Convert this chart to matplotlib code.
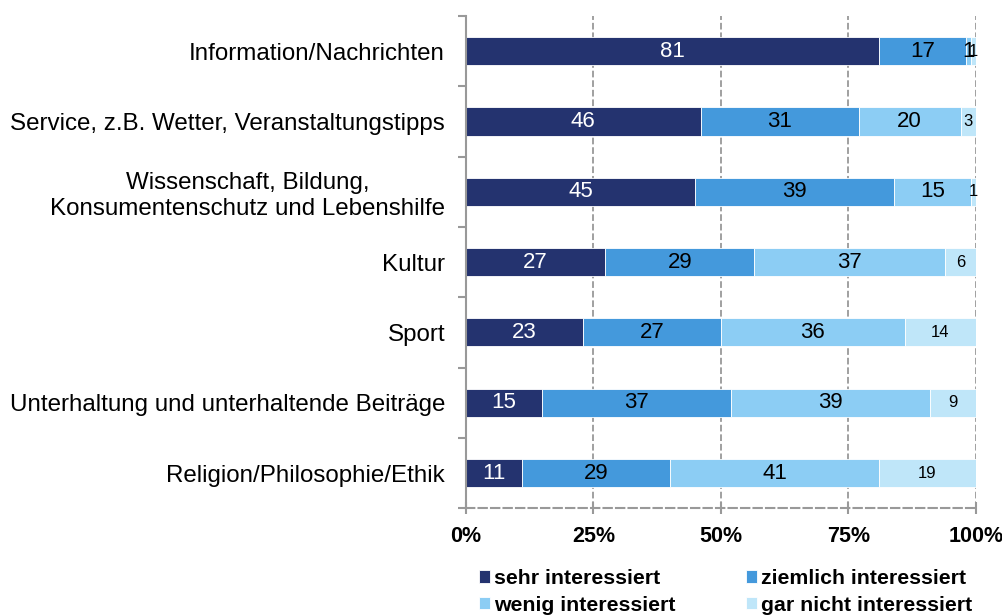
import matplotlib.pyplot as plt
import numpy as np

plt.rcParams['font.family'] = ['Liberation Sans', 'DejaVu Sans']

# categories, top to bottom
categories = ['Information/Nachrichten',
              'Service, z.B. Wetter, Veranstaltungstipps',
              'Wissenschaft, Bildung,\nKonsumentenschutz und Lebenshilfe',
              'Kultur',
              'Sport',
              'Unterhaltung und unterhaltende Beiträge',
              'Religion/Philosophie/Ethik']

sehr = [81, 46, 45, 27, 23, 15, 11]
ziemlich = [17, 31, 39, 29, 27, 37, 29]
wenig = [1, 20, 15, 37, 36, 39, 41]
gar_nicht = [1, 3, 1, 6, 14, 9, 19]

series_names = ['sehr interessiert', 'ziemlich interessiert',
                'wenig interessiert', 'gar nicht interessiert']
colors = ['#24336f', '#4499dc', '#8ccdf4', '#bfe6f9']
text_colors = ['white', 'black', 'black', 'black']
label_sizes = [16, 16, 16, 12]

data = np.array([sehr, ziemlich, wenig, gar_nicht], dtype=float)
# 100% stacked, like the original chart
shares = data / data.sum(axis=0) * 100

fig = plt.figure(figsize=(10.02, 6.16), dpi=100)
ax = fig.add_axes([0.465, 0.175, 0.509, 0.799])

y = np.arange(len(categories))
left = np.zeros(len(categories))
handles = []
for i in range(4):
    bars = ax.barh(y, shares[i], left=left, height=0.4, color=colors[i],
                   edgecolor='white', linewidth=0.6, label=series_names[i])
    handles.append(bars)
    for j in range(len(categories)):
        v = data[i][j]
        ax.text(left[j] + shares[i][j] / 2, y[j], '%d' % v, ha='center', va='center',
                color=text_colors[i], fontsize=label_sizes[i])
    left += shares[i]

ax.set_ylim(len(categories) - 0.5, -0.5)
ax.set_xlim(0, 100)
ax.set_yticks(y)
ax.set_yticklabels(categories, fontsize=17.4, multialignment='center')
ax.tick_params(axis='y', length=0, pad=15)
ax.set_yticks(np.arange(-0.5, len(categories), 1), minor=True)
ax.tick_params(axis='y', which='minor', length=6, color='#999999', width=1.5)

ax.set_xticks([0, 25, 50, 75, 100])
ax.set_xticklabels(['0%', '25%', '50%', '75%', '100%'], fontsize=15.5, fontweight='bold')
ax.tick_params(axis='x', direction='inout', length=8, color='#999999', width=1.5, pad=9)

for x in [25, 50, 75, 100]:
    ax.axvline(x, color='#999999', linestyle='--', linewidth=1.3, zorder=0)

ax.spines['top'].set_visible(False)
ax.spines['right'].set_visible(False)
ax.spines['left'].set_color('#999999')
ax.spines['left'].set_linewidth(1.5)
ax.spines['bottom'].set_color('#999999')
ax.spines['bottom'].set_linewidth(1.5)
ax.spines['bottom'].set_linestyle((0, (4, 2)))

# legend fills column by column, so reorder to get sehr/ziemlich on the first row
order = [0, 2, 1, 3]
leg = fig.legend(handles=[handles[k] for k in order],
                 labels=[series_names[k] for k in order],
                 loc='upper left', bbox_to_anchor=(0.478, 0.076),
                 ncol=2, frameon=False, handlelength=0.52, handleheight=0.52,
                 handletextpad=0.2, columnspacing=3.3, labelspacing=0.36,
                 borderpad=0, borderaxespad=0,
                 prop={'size': 15.3, 'weight': 'bold'})

fig.savefig('out.png', dpi=100)
